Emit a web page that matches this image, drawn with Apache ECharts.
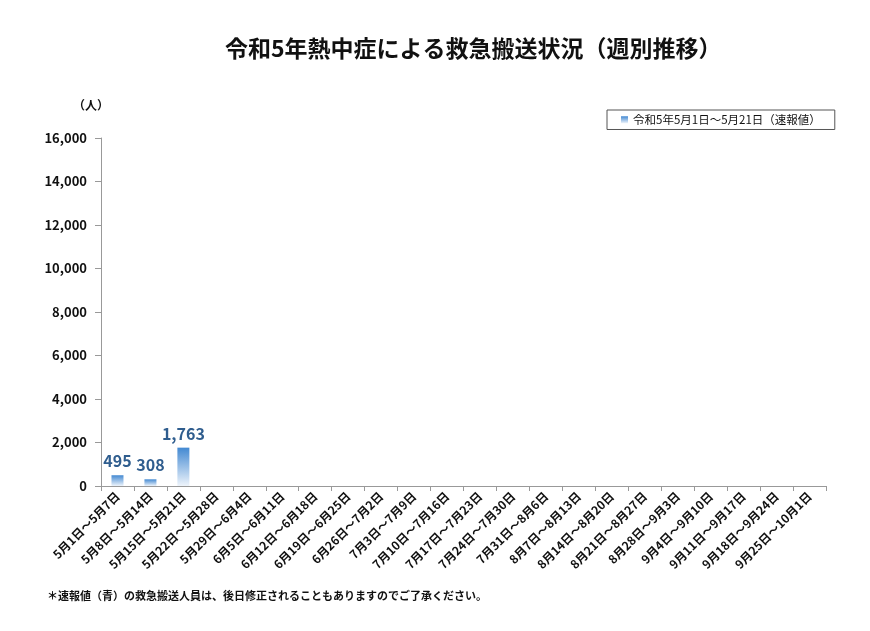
<!DOCTYPE html>
<html><head><meta charset="utf-8">
<script src="https://cdn.jsdelivr.net/npm/echarts@6/dist/echarts.min.js"></script>
<style>html,body{margin:0;padding:0;background:#fff}#c{width:870px;height:631px}</style>
</head><body><div id="c"></div>
<script>
const titleText = '令和5年熱中症による救急搬送状況（週別推移）';
const seriesName = '令和5年5月1日～5月21日（速報値）';
const categories = ['5月1日～5月7日','5月8日～5月14日','5月15日～5月21日','5月22日～5月28日','5月29日～6月4日','6月5日～6月11日','6月12日～6月18日','6月19日～6月25日','6月26日～7月2日','7月3日～7月9日','7月10日～7月16日','7月17日～7月23日','7月24日～7月30日','7月31日～8月6日','8月7日～8月13日','8月14日～8月20日','8月21日～8月27日','8月28日～9月3日','9月4日～9月10日','9月11日～9月17日','9月18日～9月24日','9月25日～10月1日'];
const values = [495, 308, 1763, null, null, null, null, null, null, null, null, null, null, null, null, null, null, null, null, null, null, null];
const yTicks = {min: 0, max: 16000, interval: 2000};
const unitLabel = '（人）';
const footnote = '＊速報値（青）の救急搬送人員は、後日修正されることもありますのでご了承ください。';

const font = '"Noto Sans CJK JP", "Noto Sans", sans-serif';
const chart = echarts.init(document.getElementById('c'), null, {renderer: 'canvas'});
const grad = new echarts.graphic.LinearGradient(0, 0, 0, 1, [
  {offset: 0, color: '#4389d2'}, {offset: 1, color: '#eef4fb'}
]);
chart.setOption({
  animation: false,
  textStyle: {fontFamily: font},
  title: [
    {text: titleText, left: 220, top: 32, textStyle: {fontSize: 23, fontWeight: 'bold', color: '#111', fontFamily: font}},
    {text: unitLabel, left: 68, top: 94, textStyle: {fontSize: 12, fontWeight: 'bold', color: '#111', fontFamily: font}},
    {text: footnote, left: 42, top: 585, textStyle: {fontSize: 11, fontWeight: 'bold', color: '#111', fontFamily: font}}
  ],
  legend: {
    left: 607, top: 110, itemWidth: 7, itemHeight: 7, itemGap: 4,
    borderColor: '#555', borderWidth: 1, padding: [4, 14, 4, 14],
    textStyle: {fontSize: 11.5, color: '#111', fontFamily: font},
    data: [{name: seriesName, icon: 'rect'}]
  },
  grid: {left: 101, right: 44, top: 138, bottom: 145, containLabel: false},
  xAxis: {
    type: 'category', data: categories,
    axisLine: {lineStyle: {color: '#999', width: 1}},
    axisTick: {show: true, length: 5, lineStyle: {color: '#999'}},
    axisLabel: {rotate: 45, interval: 0, fontSize: 12, color: '#111', fontWeight: 'bold', margin: 8, fontFamily: font}
  },
  yAxis: {
    type: 'value', min: yTicks.min, max: yTicks.max, interval: yTicks.interval,
    splitLine: {show: false},
    axisLine: {show: true, lineStyle: {color: '#999'}},
    axisTick: {show: true, length: 6, lineStyle: {color: '#999'}},
    axisLabel: {fontSize: 13, fontWeight: 'bold', color: '#111', margin: 14, fontFamily: font,
      formatter: v => v.toLocaleString('en-US')}
  },
  series: [{
    name: seriesName, type: 'bar', data: values, barWidth: 12,
    itemStyle: {color: grad},
    label: {show: true, position: 'top', distance: 6, fontSize: 16, fontWeight: 'bold', color: '#2f5d8e', fontFamily: font,
      formatter: p => p.value == null ? '' : Number(p.value).toLocaleString('en-US')}
  }]
});
</script></body></html>
